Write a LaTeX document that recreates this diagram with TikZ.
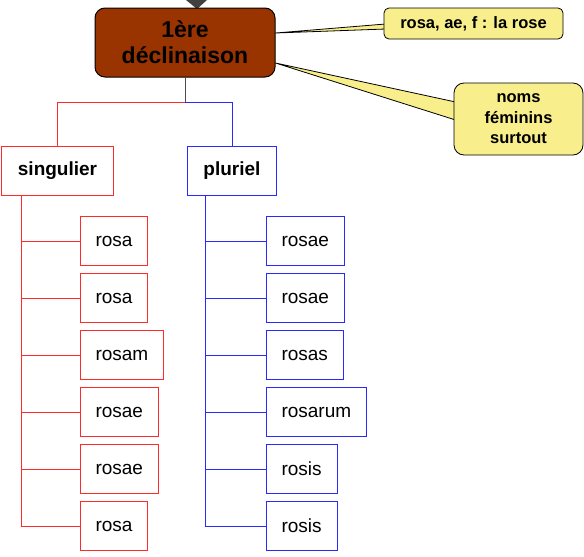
\documentclass[tikz,border=0pt]{standalone}
\usepackage{fontspec}
\setmainfont{Liberation Sans}
\usetikzlibrary{calc,backgrounds}
\definecolor{brownc}{HTML}{993300}
\definecolor{yelc}{HTML}{F8EE8C}
\definecolor{redc}{HTML}{FF2A2A}
\definecolor{bluec}{HTML}{2A2AFF}
\tikzset{
  mainbox/.style={draw=black, line width=1pt, fill=brownc, rounded corners=10pt, minimum width=180pt, minimum height=69pt, align=center, font=\fontsize{23}{26}\selectfont\bfseries, inner sep=0pt},
  callout/.style={draw=black, line width=0.8pt, fill=yelc, align=center, inner sep=0pt, font=\fontsize{16.5}{20.5}\selectfont\bfseries},
  wedge/.style={draw=black, line width=0.8pt, fill=yelc, line join=round},
  catred/.style={draw=redc, line width=1pt, fill=white, minimum height=49pt, inner xsep=16pt, font=\fontsize{19}{22}\selectfont\bfseries},
  catblue/.style={draw=bluec, line width=1pt, fill=white, minimum height=49pt, inner xsep=16pt, font=\fontsize{19}{22}\selectfont\bfseries},
  formred/.style={draw=redc, line width=1pt, fill=white, minimum height=49pt, inner xsep=15.5pt, anchor=west, font=\fontsize{19}{22}\selectfont},
  formblue/.style={draw=bluec, line width=1pt, fill=white, minimum height=49pt, inner xsep=15.5pt, anchor=west, font=\fontsize{19}{22}\selectfont},
  redline/.style={draw=redc, line width=1pt},
  blueline/.style={draw=bluec, line width=1pt}
}
\begin{document}
\begin{tikzpicture}[x=1pt,y=-1pt]
\useasboundingbox (0,0) rectangle (584,557);
% top arrow tip
\fill[black!75] (186,0) -- (207,0) -- (197,9) -- cycle;
\node[mainbox] (m) at (185,42.5) {1ère\\déclinaison};
\node[callout, minimum width=179pt, minimum height=31pt, rounded corners=5pt] (c1) at (473.5,23.5) {rosa, ae, f : la rose};
\node[callout, minimum width=129pt, minimum height=72pt, rounded corners=10pt] (c2) at (518.5,119) {noms\\féminins\\surtout};
\begin{scope}[on background layer]
  \draw[wedge] ($(m.east)+(0,-9.5)$) -- ($(c1.west)+(2,0.5)$) -- ($(c1.west)+(2,5.5)$) -- cycle;
  \draw[wedge] ($(m.east)+(0,20.5)$) -- ($(c2.west)+(2,-17)$) -- ($(c2.west)+(2,1)$) -- cycle;
\end{scope}
\node[catred] (sg) at (57.5,170.5) {singulier};
\node[catblue] (pl) at (232,170.5) {pluriel};
% forms
\node[formred] (s1) at (79.5,241) {rosa};
\node[formred] (s2) at (79.5,298) {rosa};
\node[formred] (s3) at (79.5,355) {rosam};
\node[formred] (s4) at (79.5,412) {rosae};
\node[formred] (s5) at (79.5,469) {rosae};
\node[formred] (s6) at (79.5,526) {rosa};
\node[formblue] (p1) at (265.5,241) {rosae};
\node[formblue] (p2) at (265.5,298) {rosae};
\node[formblue] (p3) at (265.5,355) {rosas};
\node[formblue] (p4) at (265.5,412) {rosarum};
\node[formblue] (p5) at (265.5,469) {rosis};
\node[formblue] (p6) at (265.5,526) {rosis};
% connectors
\coordinate (j) at ($(m.south)+(0,25)$);
\draw[black!70, line width=1pt] (m.south) -- (j);
\draw[redline] (j) -| (sg.north);
\draw[blueline] (j) -| (pl.north);
\foreach \i in {1,...,6} {
  \draw[redline] ($(sg.south west)+(20,0)$) |- (s\i.west);
  \draw[blueline] ($(pl.south west)+(19,0)$) |- (p\i.west);
}
\end{tikzpicture}
\end{document}
